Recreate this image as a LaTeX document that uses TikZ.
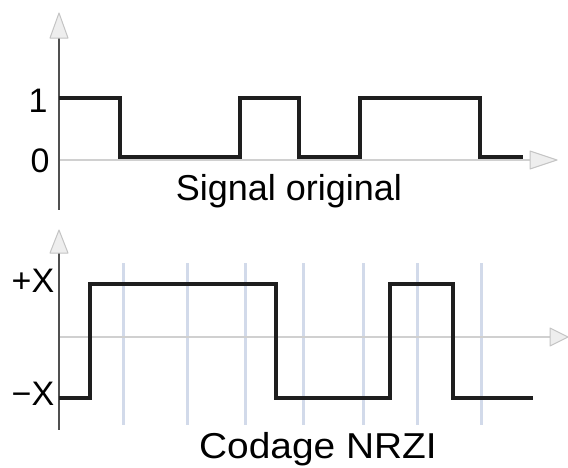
\documentclass[tikz,border=0pt]{standalone}
\usepackage{fontspec}
\setmainfont{Liberation Sans}
\definecolor{axisdark}{HTML}{505050}
\definecolor{axislight}{HTML}{D0D0D0}
\definecolor{arrowfill}{HTML}{EEEEEE}
\definecolor{arrowedge}{HTML}{C4C4C4}
\definecolor{gridblue}{HTML}{D2DAEA}
\definecolor{sig}{HTML}{1E1E1E}
\begin{document}
\begin{tikzpicture}[x=1pt,y=-1pt,
  vaxis/.style={draw=axisdark,line width=2pt},
  haxis/.style={draw=axislight,line width=2pt},
  headtri/.style={fill=arrowfill,draw=arrowedge,line width=1pt,line join=round},
  gridline/.style={draw=gridblue,line width=3pt},
  signal/.style={draw=sig,line width=3.2pt,line join=miter},
  lbl/.style={font=\fontsize{34}{34}\selectfont,inner sep=0pt,anchor=base,text=black}]
\useasboundingbox (0,0) rectangle (568,467);
\fill[white] (0,0) rectangle (568,467);
% ---------- top graph ----------
\draw[haxis] (59,160) -- (531,160);
\draw[headtri] (530,151) -- (557,160) -- (530,169) -- cycle;
\draw[vaxis] (59,38) -- (59,210);
\draw[headtri] (59,13) -- (68,38) -- (50,38) -- cycle;
\draw[signal] (59,98) -- (120,98) -- (120,157) -- (240,157) -- (240,98) -- (299,98) -- (299,157) -- (360,157) -- (360,98) -- (480,98) -- (480,157) -- (523,157);
\node[lbl] (one) at (38,112) {1};
\node[lbl] (zero) at (40,172) {0};
\node[lbl,font=\fontsize{36}{36}\selectfont] (t1) at (289,200) {Signal original};
% ---------- bottom graph ----------
\foreach \gx in {123,187,245,303,363,417,481}
  \draw[gridline] (\gx,263) -- (\gx,425);
\draw[haxis] (59,337) -- (551,337);
\draw[headtri] (550,328) -- (568,337) -- (550,346) -- cycle;
\draw[vaxis] (59,253) -- (59,430);
\draw[headtri] (59,230) -- (68,253) -- (50,253) -- cycle;
\draw[signal] (59,398) -- (90,398) -- (90,284) -- (276,284) -- (276,398) -- (390,398) -- (390,284) -- (453,284) -- (453,398) -- (533,398);
\node[lbl] (px) at (33,292) {+X};
\node[lbl] (mx) at (33,405) {−X};
\node[lbl,font=\fontsize{36}{36}\selectfont] (t2) at (318,458) {\scalebox{1.08}[1]{Codage NRZI}};
\end{tikzpicture}
\end{document}
